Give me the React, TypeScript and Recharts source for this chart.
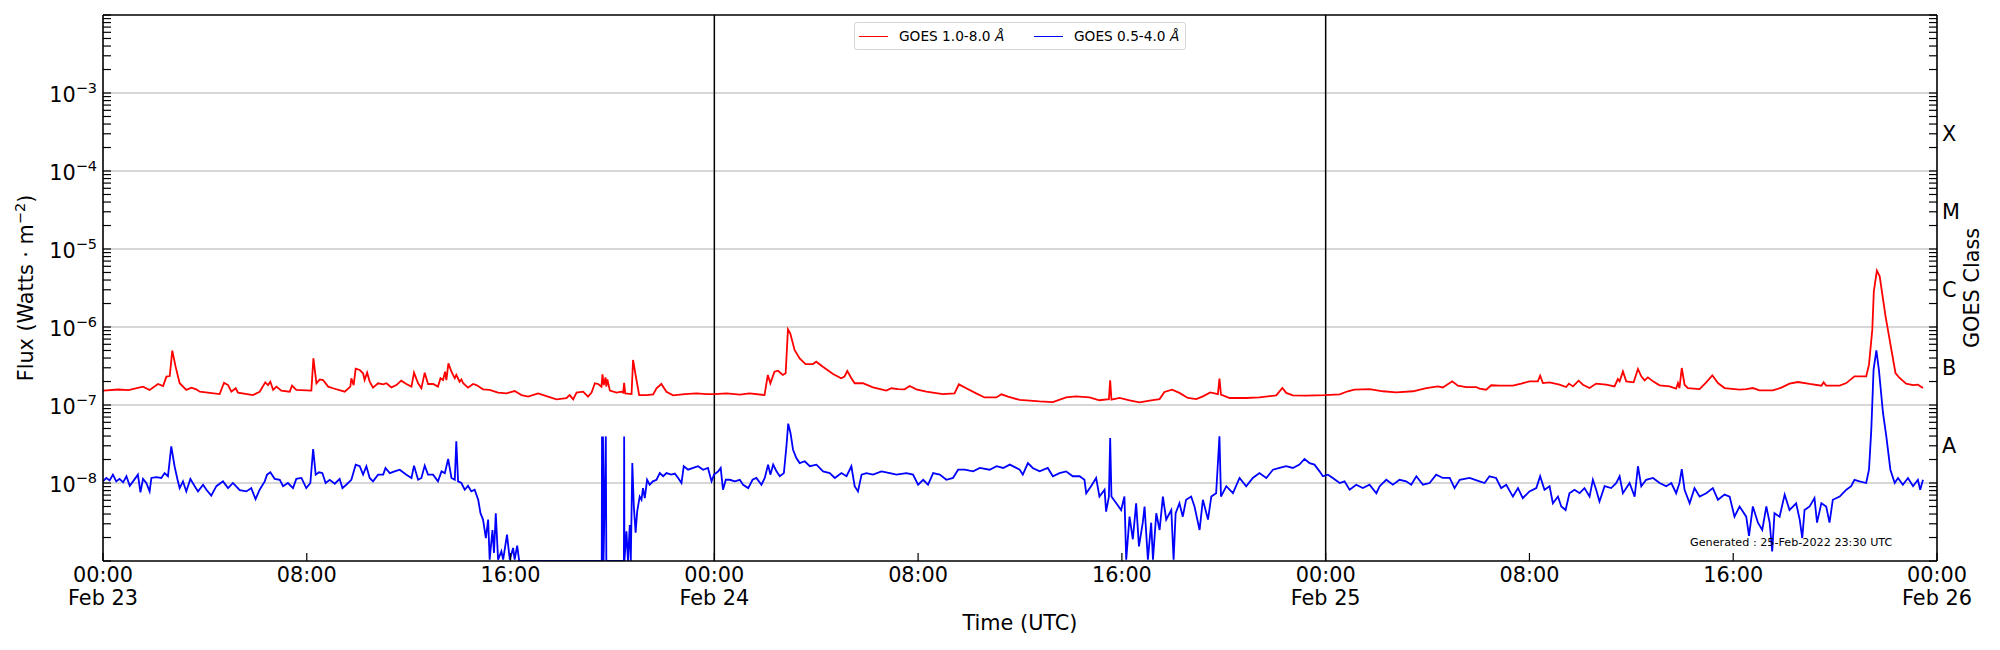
import React from 'react';
import { LineChart, Line, XAxis, YAxis, ReferenceLine, Legend } from 'recharts';

const FONT = 'DejaVu Sans';
const FS = 20.8;

// ---- axes / labels ----
const hourTicks = [0, 8, 16, 24, 32, 40, 48, 56, 64, 72];
const hourTickLabels = ['00:00', '08:00', '16:00', '00:00', '08:00', '16:00', '00:00', '08:00', '16:00', '00:00'];
const dayTickLabels = ['Feb 23', '', '', 'Feb 24', '', '', 'Feb 25', '', '', 'Feb 26'];
const dayBoundaries = [24, 48];
const fluxExponents = [-9, -8, -7, -6, -5, -4, -3, -2];
const labelledExponents = [-8, -7, -6, -5, -4, -3];
const gridFlux = [1e-8, 1e-7, 1e-6, 1e-5, 1e-4, 1e-3];
const goesClassFlux = [3e-8, 3e-7, 3e-6, 3e-5, 3e-4];
const goesClassLabels = ['A', 'B', 'C', 'M', 'X'];
const seriesNames = ['GOES 1.0-8.0', 'GOES 0.5-4.0'];
const seriesColors = ['#ff0000', '#0000ff'];
const generatedText = 'Generated : 25-Feb-2022 23:30 UTC';

// ---- data: [hours since 23-Feb-2022 00:00 UTC, flux W/m^2] ----
const red23: [number, number][] = [
  [0, 1.53e-7], [0.6, 1.58e-7], [1.0, 1.55e-7], [1.57, 1.72e-7], [1.83, 1.56e-7], [2.16, 1.86e-7], [2.36, 1.75e-7],
  [2.49, 2.31e-7], [2.62, 2.35e-7], [2.72, 4.98e-7], [2.85, 3.1e-7], [3.01, 1.9e-7], [3.27, 1.56e-7], [3.47, 1.67e-7],
  [3.66, 1.59e-7], [3.8, 1.48e-7], [4.58, 1.38e-7], [4.75, 1.93e-7], [4.91, 1.8e-7], [5.04, 1.48e-7], [5.21, 1.64e-7],
  [5.3, 1.44e-7], [5.89, 1.34e-7], [6.15, 1.48e-7], [6.37, 1.95e-7], [6.48, 1.8e-7], [6.57, 1.99e-7], [6.68, 1.56e-7],
  [6.81, 1.72e-7], [7.0, 1.53e-7], [7.33, 1.48e-7], [7.42, 1.77e-7], [7.59, 1.56e-7], [8.18, 1.53e-7], [8.26, 3.96e-7],
  [8.38, 1.9e-7], [8.51, 2.13e-7], [8.64, 2.09e-7], [8.84, 1.72e-7], [9.03, 1.64e-7], [9.49, 1.48e-7], [9.71, 1.72e-7],
  [9.75, 2.2e-7], [9.84, 1.8e-7], [9.92, 2.92e-7], [10.08, 2.81e-7], [10.21, 2.55e-7], [10.27, 2.09e-7], [10.37, 2.6e-7],
  [10.47, 1.99e-7], [10.6, 1.67e-7], [10.8, 1.9e-7], [11.0, 1.84e-7], [11.13, 1.9e-7], [11.32, 1.68e-7], [11.52, 1.8e-7],
  [11.71, 2.05e-7], [11.91, 1.86e-7], [12.11, 1.72e-7], [12.21, 2.6e-7], [12.37, 1.9e-7], [12.5, 1.64e-7], [12.63, 2.6e-7],
  [12.76, 1.86e-7], [12.96, 1.86e-7], [13.15, 1.72e-7], [13.25, 2.2e-7], [13.35, 2.09e-7], [13.43, 2.67e-7], [13.48, 2.09e-7],
  [13.56, 3.42e-7], [13.68, 2.67e-7], [13.81, 2.2e-7], [13.87, 2.43e-7], [14.0, 1.99e-7], [14.07, 2.13e-7], [14.14, 1.9e-7],
  [14.33, 1.67e-7], [14.53, 1.86e-7], [14.66, 1.8e-7], [14.92, 1.59e-7], [15.18, 1.56e-7], [15.51, 1.44e-7], [15.84, 1.41e-7],
  [16.16, 1.51e-7], [16.43, 1.34e-7], [16.69, 1.28e-7], [17.08, 1.41e-7], [17.41, 1.3e-7], [17.8, 1.18e-7], [18.19, 1.22e-7],
  [18.32, 1.34e-7], [18.46, 1.18e-7], [18.59, 1.44e-7], [18.85, 1.48e-7], [19.04, 1.28e-7], [19.18, 1.44e-7], [19.31, 1.9e-7],
  [19.44, 1.86e-7], [19.57, 1.72e-7], [19.61, 2.47e-7], [19.66, 1.8e-7], [19.73, 2.26e-7], [19.76, 1.72e-7], [19.8, 2.13e-7],
  [19.9, 1.53e-7], [20.16, 1.44e-7], [20.35, 1.48e-7], [20.42, 1.44e-7], [20.46, 1.93e-7], [20.5, 1.41e-7], [20.75, 1.38e-7],
  [20.81, 3.78e-7], [20.92, 2.31e-7], [21.05, 1.34e-7], [21.34, 1.34e-7], [21.6, 1.37e-7], [21.73, 1.64e-7], [21.92, 1.86e-7],
  [22.12, 1.48e-7], [22.38, 1.33e-7], [22.84, 1.38e-7], [23.3, 1.41e-7], [23.69, 1.38e-7],
];
const red24: [number, number][] = [
  [24.0, 1.38e-7], [24.48, 1.41e-7], [25.0, 1.36e-7], [25.38, 1.41e-7], [25.97, 1.34e-7], [26.1, 2.43e-7], [26.2, 1.9e-7],
  [26.36, 2.67e-7], [26.5, 2.75e-7], [26.69, 2.43e-7], [26.8, 2.55e-7], [26.89, 9.33e-7], [26.98, 8.3e-7], [27.15, 5.07e-7],
  [27.35, 3.96e-7], [27.58, 3.35e-7], [27.87, 3.35e-7], [28.0, 3.59e-7], [28.26, 3.1e-7], [28.66, 2.5e-7], [28.98, 2.2e-7],
  [29.11, 2.31e-7], [29.22, 2.73e-7], [29.38, 2.2e-7], [29.51, 1.9e-7], [29.83, 1.9e-7], [30.23, 1.68e-7], [30.75, 1.53e-7],
  [30.95, 1.64e-7], [31.21, 1.6e-7], [31.47, 1.59e-7], [31.67, 1.75e-7], [31.93, 1.59e-7], [32.32, 1.48e-7], [32.97, 1.38e-7],
  [33.43, 1.41e-7], [33.6, 1.84e-7], [33.89, 1.64e-7], [34.28, 1.41e-7], [34.61, 1.25e-7], [35.07, 1.25e-7], [35.27, 1.37e-7],
  [35.53, 1.28e-7], [35.99, 1.16e-7], [36.77, 1.11e-7], [37.29, 1.09e-7], [37.81, 1.25e-7], [38.2, 1.29e-7], [38.73, 1.25e-7],
  [39.12, 1.15e-7], [39.49, 1.19e-7], [39.54, 2.07e-7], [39.59, 1.17e-7], [39.91, 1.23e-7], [40.3, 1.15e-7], [40.69, 1.08e-7],
  [41.15, 1.15e-7], [41.48, 1.19e-7], [41.67, 1.47e-7], [41.97, 1.57e-7], [42.26, 1.43e-7], [42.59, 1.23e-7], [42.92, 1.19e-7],
  [43.18, 1.29e-7], [43.47, 1.45e-7], [43.77, 1.38e-7], [43.83, 2.18e-7], [43.89, 1.36e-7], [44.23, 1.23e-7], [44.88, 1.23e-7],
  [45.4, 1.25e-7], [46.06, 1.33e-7], [46.3, 1.65e-7], [46.45, 1.43e-7], [46.71, 1.33e-7], [47.24, 1.32e-7], [47.97, 1.34e-7],
];
const red25: [number, number][] = [
  [48.55, 1.37e-7], [48.87, 1.5e-7], [49.13, 1.57e-7], [49.72, 1.6e-7], [50.25, 1.5e-7], [50.77, 1.45e-7], [51.43, 1.5e-7],
  [51.95, 1.65e-7], [52.41, 1.73e-7], [52.6, 1.68e-7], [52.97, 2.01e-7], [53.19, 1.77e-7], [53.52, 1.7e-7], [53.91, 1.7e-7],
  [54.04, 1.62e-7], [54.3, 1.57e-7], [54.5, 1.79e-7], [54.83, 1.77e-7], [55.35, 1.77e-7], [55.68, 1.88e-7], [56.0, 2.01e-7],
  [56.33, 2.01e-7], [56.42, 2.38e-7], [56.53, 1.91e-7], [56.79, 1.95e-7], [57.18, 1.82e-7], [57.44, 1.7e-7], [57.55, 1.88e-7],
  [57.71, 1.73e-7], [57.93, 2.05e-7], [58.1, 1.82e-7], [58.36, 1.65e-7], [58.62, 1.88e-7], [59.01, 1.82e-7], [59.34, 1.73e-7],
  [59.47, 2.15e-7], [59.54, 2.01e-7], [59.67, 2.7e-7], [59.8, 2.01e-7], [60.09, 1.95e-7], [60.26, 2.9e-7], [60.39, 2.33e-7],
  [60.52, 2.07e-7], [60.65, 2.26e-7], [60.85, 2.01e-7], [61.11, 1.79e-7], [61.5, 1.73e-7], [61.76, 1.62e-7], [61.83, 1.91e-7],
  [61.89, 1.65e-7], [61.98, 2.98e-7], [62.09, 1.82e-7], [62.22, 1.65e-7], [62.68, 1.6e-7], [62.94, 1.95e-7], [63.18, 2.4e-7],
  [63.4, 1.91e-7], [63.66, 1.65e-7], [64.25, 1.57e-7], [64.51, 1.6e-7], [64.77, 1.65e-7], [65.03, 1.54e-7], [65.56, 1.54e-7],
  [65.89, 1.67e-7], [66.21, 1.88e-7], [66.54, 1.97e-7], [67.0, 1.86e-7], [67.46, 1.77e-7], [67.55, 1.95e-7], [67.65, 1.77e-7],
  [68.18, 1.77e-7], [68.44, 1.91e-7], [68.76, 2.33e-7], [68.96, 2.33e-7], [69.22, 2.33e-7], [69.33, 3.29e-7], [69.46, 9.25e-7],
  [69.52, 2.87e-6], [69.64, 5.27e-6], [69.75, 4.47e-6], [69.98, 1.37e-6], [70.14, 6.9e-7], [70.37, 2.57e-7], [70.53, 2.22e-7],
  [70.79, 1.88e-7], [71.06, 1.8e-7], [71.25, 1.82e-7], [71.45, 1.65e-7],
];
const blue23: [number, number][] = [
  [0, 1.05e-8], [0.13, 1.16e-8], [0.26, 1.08e-8], [0.39, 1.28e-8], [0.52, 1.05e-8], [0.65, 1.13e-8], [0.79, 1.02e-8],
  [0.92, 1.22e-8], [1.05, 0.92e-8], [1.18, 1.05e-8], [1.37, 1.28e-8], [1.47, 0.76e-8], [1.57, 1.13e-8], [1.7, 1.0e-8],
  [1.83, 0.78e-8], [1.9, 1.16e-8], [2.09, 1.19e-8], [2.29, 1.16e-8], [2.42, 1.34e-8], [2.55, 1.22e-8], [2.68, 2.95e-8],
  [2.81, 1.64e-8], [2.94, 1.05e-8], [3.01, 0.86e-8], [3.14, 1.05e-8], [3.27, 0.78e-8], [3.43, 1.13e-8], [3.6, 0.91e-8],
  [3.73, 0.78e-8], [3.93, 0.95e-8], [4.06, 0.82e-8], [4.25, 0.69e-8], [4.45, 0.91e-8], [4.71, 1.05e-8], [4.91, 0.86e-8],
  [5.1, 1.0e-8], [5.37, 0.81e-8], [5.63, 0.78e-8], [5.82, 0.86e-8], [5.99, 0.62e-8], [6.15, 0.82e-8], [6.35, 1.05e-8],
  [6.44, 1.28e-8], [6.57, 1.37e-8], [6.74, 1.13e-8], [6.94, 1.1e-8], [7.07, 0.91e-8], [7.26, 1.0e-8], [7.46, 0.86e-8],
  [7.59, 1.13e-8], [7.79, 1.16e-8], [7.98, 0.86e-8], [8.14, 1.0e-8], [8.25, 2.73e-8], [8.35, 1.28e-8], [8.48, 1.37e-8],
  [8.61, 1.34e-8], [8.74, 1.0e-8], [8.9, 1.1e-8], [9.1, 0.98e-8], [9.29, 1.13e-8], [9.4, 0.86e-8], [9.55, 0.95e-8],
  [9.75, 1.1e-8], [9.92, 1.72e-8], [10.08, 1.64e-8], [10.21, 1.28e-8], [10.34, 1.64e-8], [10.47, 1.16e-8], [10.6, 1.05e-8],
  [10.8, 1.28e-8], [11.0, 1.28e-8], [11.09, 1.56e-8], [11.26, 1.34e-8], [11.45, 1.41e-8], [11.65, 1.48e-8], [11.91, 1.28e-8],
  [12.11, 1.16e-8], [12.21, 1.67e-8], [12.37, 1.1e-8], [12.5, 1.16e-8], [12.63, 1.67e-8], [12.76, 1.28e-8], [12.96, 1.28e-8],
  [13.15, 1.05e-8], [13.29, 1.41e-8], [13.42, 1.34e-8], [13.55, 2.03e-8], [13.68, 1.16e-8], [13.81, 1.1e-8], [13.87, 3.42e-8],
  [13.94, 1.05e-8], [14.07, 1.0e-8], [14.2, 0.82e-8], [14.33, 0.92e-8], [14.46, 0.78e-8], [14.59, 0.82e-8], [14.73, 0.61e-8],
  [14.82, 0.41e-8], [14.92, 0.34e-8], [15.03, 0.197e-8], [15.12, 0.34e-8], [15.18, 0.104e-8], [15.29, 0.25e-8], [15.35, 0.127e-8],
  [15.42, 0.41e-8], [15.51, 0.104e-8], [15.64, 0.133e-8], [15.71, 0.104e-8], [15.86, 0.218e-8], [15.97, 0.104e-8], [16.1, 0.147e-8],
  [16.16, 0.104e-8], [16.26, 0.157e-8], [16.34, 1e-9], [19.58, 1e-9], [19.59, 3.96e-8], [19.61, 1e-9], [19.63, 3.96e-8],
  [19.65, 1e-9], [19.74, 3.96e-8], [19.76, 1e-9], [20.45, 1e-9], [20.46, 3.96e-8], [20.47, 1e-9], [20.55, 0.24e-8],
  [20.61, 1e-9], [20.68, 0.29e-8], [20.72, 1e-9], [20.78, 1.8e-8], [20.84, 0.5e-8], [20.91, 0.23e-8], [20.97, 0.43e-8],
  [21.07, 0.67e-8], [21.14, 0.61e-8], [21.2, 0.86e-8], [21.27, 0.64e-8], [21.36, 1.1e-8], [21.46, 0.95e-8], [21.59, 1.05e-8],
  [21.73, 1.1e-8], [21.86, 1.34e-8], [21.99, 1.22e-8], [22.12, 1.34e-8], [22.31, 1.28e-8], [22.45, 1.32e-8], [22.58, 1.16e-8],
  [22.71, 1.0e-8], [22.8, 1.64e-8], [22.97, 1.48e-8], [23.17, 1.56e-8], [23.36, 1.64e-8], [23.56, 1.48e-8], [23.75, 1.56e-8],
  [23.89, 1.05e-8],
];
const blue24: [number, number][] = [
  [23.99, 1.28e-8], [24.15, 1.41e-8], [24.25, 1.56e-8], [24.34, 0.82e-8], [24.45, 1.1e-8], [24.61, 1.1e-8], [24.8, 1.05e-8],
  [25.0, 1.1e-8], [25.13, 0.95e-8], [25.33, 0.86e-8], [25.5, 1.1e-8], [25.65, 1.16e-8], [25.85, 0.95e-8], [25.98, 1.16e-8],
  [26.11, 1.72e-8], [26.2, 1.28e-8], [26.31, 1.72e-8], [26.44, 1.41e-8], [26.57, 1.22e-8], [26.73, 1.34e-8], [26.83, 2.95e-8],
  [26.9, 5.77e-8], [26.99, 4.38e-8], [27.09, 2.67e-8], [27.22, 2.09e-8], [27.35, 1.8e-8], [27.55, 1.9e-8], [27.75, 1.64e-8],
  [28.01, 1.72e-8], [28.27, 1.41e-8], [28.53, 1.34e-8], [28.73, 1.16e-8], [28.99, 1.34e-8], [29.19, 1.22e-8], [29.38, 1.64e-8],
  [29.51, 0.91e-8], [29.64, 0.78e-8], [29.78, 1.28e-8], [29.97, 1.34e-8], [30.23, 1.28e-8], [30.56, 1.41e-8], [30.89, 1.34e-8],
  [31.15, 1.28e-8], [31.54, 1.34e-8], [31.8, 1.28e-8], [32.0, 0.95e-8], [32.2, 1.1e-8], [32.39, 0.95e-8], [32.59, 1.34e-8],
  [32.85, 1.28e-8], [33.11, 1.1e-8], [33.37, 1.16e-8], [33.57, 1.48e-8], [33.83, 1.48e-8], [34.16, 1.41e-8], [34.42, 1.56e-8],
  [34.81, 1.48e-8], [35.08, 1.64e-8], [35.34, 1.56e-8], [35.6, 1.72e-8], [35.99, 1.48e-8], [36.11, 1.28e-8], [36.31, 1.8e-8],
  [36.5, 1.56e-8], [36.77, 1.41e-8], [37.09, 1.56e-8], [37.29, 1.22e-8], [37.55, 1.34e-8], [37.81, 1.41e-8], [38.07, 1.22e-8],
  [38.34, 1.22e-8], [38.53, 1.1e-8], [38.6, 0.74e-8], [38.79, 0.91e-8], [38.99, 1.16e-8], [39.12, 0.67e-8], [39.32, 0.82e-8],
  [39.38, 0.43e-8], [39.49, 0.67e-8], [39.54, 3.78e-8], [39.59, 0.67e-8], [39.78, 0.55e-8], [39.97, 0.45e-8], [40.1, 0.67e-8],
  [40.17, 0.104e-8], [40.3, 0.37e-8], [40.43, 0.19e-8], [40.56, 0.55e-8], [40.67, 0.154e-8], [40.82, 0.31e-8], [40.89, 0.5e-8],
  [41.02, 0.104e-8], [41.15, 0.31e-8], [41.22, 0.104e-8], [41.35, 0.41e-8], [41.48, 0.25e-8], [41.61, 0.67e-8], [41.74, 0.34e-8],
  [41.94, 0.45e-8], [42.03, 0.104e-8], [42.11, 0.41e-8], [42.26, 0.55e-8], [42.39, 0.37e-8], [42.52, 0.61e-8], [42.72, 0.67e-8],
  [42.85, 0.5e-8], [43.05, 0.25e-8], [43.18, 0.61e-8], [43.38, 0.34e-8], [43.51, 0.67e-8], [43.7, 0.74e-8], [43.83, 3.96e-8],
  [43.89, 0.67e-8], [44.1, 0.91e-8], [44.36, 0.74e-8], [44.62, 1.16e-8], [44.88, 0.91e-8], [45.14, 1.16e-8], [45.4, 1.34e-8],
  [45.67, 1.16e-8], [45.93, 1.48e-8], [46.19, 1.56e-8], [46.45, 1.64e-8], [46.71, 1.56e-8], [46.97, 1.72e-8], [47.17, 2.03e-8],
  [47.37, 1.8e-8], [47.56, 1.72e-8], [47.76, 1.41e-8], [47.89, 1.22e-8],
];
const blue25: [number, number][] = [
  [48.09, 1.28e-8], [48.28, 1.16e-8], [48.55, 1.0e-8], [48.74, 1.05e-8], [48.94, 0.82e-8], [49.2, 0.95e-8], [49.46, 0.86e-8],
  [49.72, 0.95e-8], [49.99, 0.74e-8], [50.12, 0.91e-8], [50.38, 1.1e-8], [50.64, 0.95e-8], [50.9, 1.1e-8], [51.16, 1.05e-8],
  [51.36, 0.95e-8], [51.56, 1.22e-8], [51.82, 0.95e-8], [52.08, 1.0e-8], [52.34, 1.28e-8], [52.6, 1.16e-8], [52.87, 1.16e-8],
  [53.06, 0.86e-8], [53.26, 1.1e-8], [53.65, 1.16e-8], [54.04, 1.05e-8], [54.24, 1.0e-8], [54.43, 1.22e-8], [54.69, 1.16e-8],
  [54.89, 0.86e-8], [55.09, 0.95e-8], [55.35, 0.67e-8], [55.55, 0.86e-8], [55.74, 0.64e-8], [56.0, 0.78e-8], [56.27, 0.86e-8],
  [56.42, 1.22e-8], [56.59, 0.82e-8], [56.79, 0.91e-8], [56.92, 0.55e-8], [57.12, 0.67e-8], [57.25, 0.5e-8], [57.42, 0.45e-8],
  [57.57, 0.74e-8], [57.77, 0.82e-8], [57.97, 0.74e-8], [58.16, 0.86e-8], [58.36, 0.67e-8], [58.49, 1.1e-8], [58.62, 0.82e-8],
  [58.75, 0.58e-8], [58.95, 0.91e-8], [59.21, 0.86e-8], [59.41, 1.0e-8], [59.54, 1.22e-8], [59.67, 0.74e-8], [59.93, 1.0e-8],
  [60.13, 0.67e-8], [60.26, 1.64e-8], [60.39, 0.91e-8], [60.58, 1.1e-8], [60.85, 1.16e-8], [61.11, 1.0e-8], [61.37, 0.91e-8],
  [61.57, 1.0e-8], [61.76, 0.74e-8], [61.89, 1.0e-8], [61.98, 1.51e-8], [62.09, 0.82e-8], [62.29, 0.55e-8], [62.48, 0.86e-8],
  [62.68, 0.67e-8], [62.94, 0.74e-8], [63.2, 0.86e-8], [63.4, 0.61e-8], [63.66, 0.71e-8], [63.86, 0.67e-8], [64.05, 0.37e-8],
  [64.25, 0.5e-8], [64.51, 0.37e-8], [64.62, 0.21e-8], [64.77, 0.5e-8], [64.97, 0.31e-8], [65.14, 0.25e-8], [65.3, 0.5e-8],
  [65.43, 0.31e-8], [65.53, 0.133e-8], [65.62, 0.41e-8], [65.82, 0.37e-8], [66.02, 0.71e-8], [66.21, 0.45e-8], [66.47, 0.55e-8],
  [66.61, 0.34e-8], [66.71, 0.197e-8], [66.8, 0.45e-8], [67.0, 0.5e-8], [67.19, 0.64e-8], [67.29, 0.31e-8], [67.46, 0.55e-8],
  [67.65, 0.5e-8], [67.78, 0.31e-8], [67.91, 0.61e-8], [68.18, 0.67e-8], [68.44, 0.82e-8], [68.63, 0.91e-8], [68.76, 1.1e-8],
  [68.96, 1.05e-8], [69.22, 1.0e-8], [69.33, 1.48e-8], [69.42, 4.8e-8], [69.51, 2.84e-7], [69.62, 5.0e-7], [69.72, 2.8e-7],
  [69.88, 7.9e-8], [70.01, 3.96e-8], [70.17, 1.48e-8], [70.34, 1.0e-8], [70.47, 1.16e-8], [70.66, 0.95e-8], [70.86, 1.16e-8],
  [71.06, 0.91e-8], [71.25, 1.1e-8], [71.34, 0.82e-8], [71.45, 1.1e-8],
];

const toRows = (pairs: [number, number][]) => pairs.map(([t, flux]) => ({ t, flux }));
const redData = toRows([...red23, ...red24, ...red25]);
const blueData = toRows([...blue23, ...blue24, ...blue25]);

const logTicks: number[] = [];
fluxExponents.slice(0, -1).forEach((e) => {
  for (let m = 1; m <= 9; m++) logTicks.push(m * Math.pow(10, e));
});
logTicks.push(Math.pow(10, fluxExponents[fluxExponents.length - 1]));

const isDecade = (v: number) => Math.abs(Math.log10(v) - Math.round(Math.log10(v))) < 1e-6;

// layout constants
const LEFT_AXIS_W = 60;
const RIGHT_AXIS_W = 50;
const BOTTOM_AXIS_H = 60;
const TOP_AXIS_H = 4;

const FluxTick = (props: any) => {
  const { x, y, payload } = props;
  const v = payload.value as number;
  const e = Math.round(Math.log10(v));
  const major = isDecade(v);
  return (
    <g>
      <line x1={x} x2={x + 8} y1={y} y2={y} stroke="#000" strokeWidth={1.2} />
      {major && labelledExponents.includes(e) && (
        <text x={x - 6} y={y + 9} textAnchor="end" fontFamily={FONT} fontSize={FS} fill="#000">
          <tspan>10</tspan>
          <tspan dy={-9} fontSize={14.5}>{'\u2212' + String(-e)}</tspan>
        </text>
      )}
    </g>
  );
};

const ClassTick = (props: any) => {
  const { x, y, payload } = props;
  const v = payload.value as number;
  const idx = goesClassFlux.findIndex((c) => Math.abs(v / c - 1) < 1e-6);
  return (
    <g>
      <line x1={x} x2={x - 8} y1={y} y2={y} stroke="#000" strokeWidth={1.2} />
      {idx >= 0 && (
        <text x={x + 5} y={y + 7.6} textAnchor="start" fontFamily={FONT} fontSize={FS} fill="#000">
          {goesClassLabels[idx]}
        </text>
      )}
    </g>
  );
};

const TimeTick = (props: any) => {
  const { x, y, payload } = props;
  const idx = hourTicks.indexOf(payload.value);
  return (
    <g>
      <line x1={x} x2={x} y1={y} y2={y - 8} stroke="#000" strokeWidth={1.2} />
      <text x={x} y={y + 20.7} textAnchor="middle" fontFamily={FONT} fontSize={FS} fill="#000">
        {hourTickLabels[idx]}
      </text>
      {dayTickLabels[idx] && (
        <text x={x} y={y + 44} textAnchor="middle" fontFamily={FONT} fontSize={FS} fill="#000">
          {dayTickLabels[idx]}
        </text>
      )}
    </g>
  );
};

const FluxLabel = (props: any) => {
  const vb = props.viewBox || { x: 43, y: 15, width: LEFT_AXIS_W, height: 546 };
  const bx = vb.x + vb.width - 70;
  const cy = vb.y + vb.height / 2;
  return (
    <text x={bx} y={cy} transform={`rotate(-90 ${bx} ${cy})`} textAnchor="middle" fontFamily={FONT} fontSize={FS} fill="#000">
      <tspan>Flux (Watts · m</tspan>
      <tspan dy={-8} fontSize={14.5}>{'\u22122'}</tspan>
      <tspan dy={8}>)</tspan>
    </text>
  );
};

const ClassLabel = (props: any) => {
  const vb = props.viewBox || { x: 1937, y: 15, width: RIGHT_AXIS_W, height: 546 };
  const bx = vb.x + 42;
  const cy = vb.y + vb.height / 2;
  return (
    <text x={bx} y={cy} transform={`rotate(-90 ${bx} ${cy})`} textAnchor="middle" fontFamily={FONT} fontSize={FS} fill="#000">
      GOES Class
    </text>
  );
};

const TimeLabel = (props: any) => {
  const vb = props.viewBox || { x: 103, y: 561, width: 1834, height: BOTTOM_AXIS_H };
  return (
    <text x={vb.x + vb.width / 2} y={vb.y + 69} textAnchor="middle" fontFamily={FONT} fontSize={FS} fill="#000">
      Time (UTC)
    </text>
  );
};

const LegendContent = (props: any) => {
  const items = [...(props.payload || [])].sort(
    (a: any, b: any) => seriesNames.indexOf(a.value) - seriesNames.indexOf(b.value),
  );
  return (
    <div
      style={{
        boxSizing: 'border-box',
        width: 332,
        height: 28,
        border: '1px solid #d5d5d5',
        borderRadius: 3,
        background: 'rgba(255,255,255,0.85)',
        display: 'flex',
        alignItems: 'center',
        paddingLeft: 4,
        fontFamily: FONT,
        fontSize: 13.7,
        color: '#000',
      }}
    >
      {items.map((it: any, i: number) => (
        <div
          key={i}
          style={{ display: 'flex', alignItems: 'center', width: i === 0 ? 175 : undefined, whiteSpace: 'nowrap' }}
        >
          <span style={{ display: 'inline-block', width: 29, height: 0, borderTop: `1.6px solid ${it.color}`, marginRight: 11 }} />
          <span>
            {it.value} <i>Å</i>
          </span>
        </div>
      ))}
    </div>
  );
};

export default function App() {
  return (
    <div style={{ position: 'absolute', left: 0, top: 0, width: 2000, height: 650, background: '#fff' }}>
      <LineChart
        width={2000}
        height={650}
        margin={{ top: 15 - TOP_AXIS_H, right: 63 - RIGHT_AXIS_W, bottom: 89 - BOTTOM_AXIS_H, left: 103 - LEFT_AXIS_W }}
      >
        <XAxis
          xAxisId={0}
          dataKey="t"
          type="number"
          domain={[0, 72]}
          ticks={hourTicks}
          interval={0}
          height={BOTTOM_AXIS_H}
          tickSize={0}
          tickMargin={0}
          tick={<TimeTick />}
          axisLine={{ stroke: '#000', strokeWidth: 1.6 }}
          label={<TimeLabel />}
          allowDataOverflow
        />
        <XAxis
          xAxisId="top"
          orientation="top"
          type="number"
          domain={[0, 72]}
          height={TOP_AXIS_H}
          tick={false}
          tickLine={false}
          axisLine={{ stroke: '#000', strokeWidth: 1.6 }}
        />
        <YAxis
          yAxisId={0}
          type="number"
          scale="log"
          domain={[1e-9, 1e-2]}
          ticks={logTicks}
          interval={0}
          width={LEFT_AXIS_W}
          tickSize={0}
          tickMargin={0}
          tick={<FluxTick />}
          axisLine={{ stroke: '#000', strokeWidth: 1.6 }}
          label={<FluxLabel />}
          allowDataOverflow
        />
        <YAxis
          yAxisId="right"
          orientation="right"
          type="number"
          scale="log"
          domain={[1e-9, 1e-2]}
          ticks={logTicks}
          interval={0}
          width={RIGHT_AXIS_W}
          tickSize={0}
          tickMargin={0}
          tick={<ClassTick />}
          axisLine={{ stroke: '#000', strokeWidth: 1.6 }}
          label={<ClassLabel />}
          allowDataOverflow
        />
        {gridFlux.map((v) => (
          <ReferenceLine key={'g' + v} y={v} yAxisId={0} stroke="#b0b0b0" strokeWidth={1.2} />
        ))}
        {dayBoundaries.map((d) => (
          <ReferenceLine key={'d' + d} x={d} yAxisId={0} stroke="#000" strokeWidth={1.5} />
        ))}
        <Line
          data={redData}
          dataKey="flux"
          name={seriesNames[0]}
          type="linear"
          stroke={seriesColors[0]}
          strokeWidth={1.8}
          dot={false}
          activeDot={false}
          isAnimationActive={false}
        />
        <Line
          data={blueData}
          dataKey="flux"
          name={seriesNames[1]}
          type="linear"
          stroke={seriesColors[1]}
          strokeWidth={1.8}
          dot={false}
          activeDot={false}
          isAnimationActive={false}
        />
        <Legend
          layout="horizontal"
          verticalAlign="middle"
          align="center"
          content={<LegendContent />}
          wrapperStyle={{ left: 854, top: 22, width: 332, height: 28 }}
        />
      </LineChart>
      <div
        style={{
          position: 'absolute',
          left: 1690,
          top: 536,
          fontFamily: FONT,
          fontSize: 11.2,
          whiteSpace: 'nowrap',
          color: '#000',
        }}
      >
        {generatedText}
      </div>
    </div>
  );
}
